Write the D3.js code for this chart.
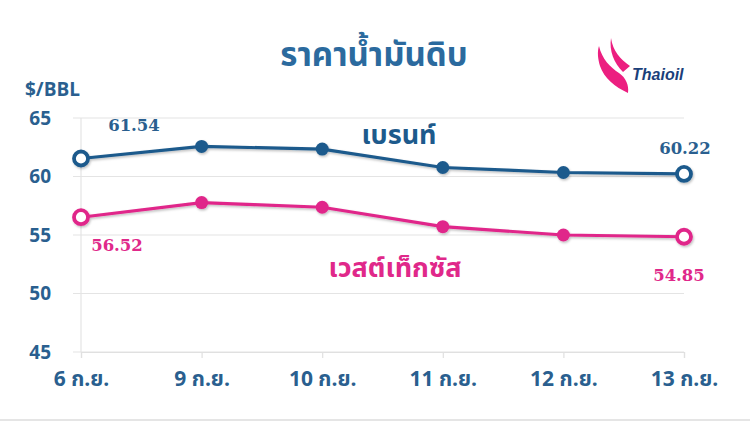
<!DOCTYPE html>
<html><head><meta charset="utf-8">
<script src="https://cdn.jsdelivr.net/npm/d3@7"></script>
<style>
html,body{margin:0;padding:0;background:#fff;}
svg{display:block;}
</style></head>
<body>
<svg id="c" width="750" height="422"></svg>
<script>
const categories = ["6 ก.ย.", "9 ก.ย.", "10 ก.ย.", "11 ก.ย.", "12 ก.ย.", "13 ก.ย."];
const brent = [61.54, 62.57, 62.34, 60.77, 60.34, 60.22];
const wti = [56.52, 57.77, 57.37, 55.71, 55.00, 54.85];
const yTicks = [45, 50, 55, 60, 65];
const title = "ราคาน้ำมันดิบ";
const unitLabel = "$/BBL";
const brentName = "เบรนท์";
const wtiName = "เวสต์เท็กซัส";

const blue = "#1d5a8c", pink = "#e0288a", axisText = "#2a5f8f";
const thaiFont = "'Noto Sans Thai','Noto Sans Thai Looped','Noto Sans','DejaVu Sans',sans-serif";
const numFont = "'DejaVu Serif','Liberation Serif',serif";

const svg = d3.select("#c");
const defs = svg.append("defs");
const f = defs.append("filter").attr("id","sh").attr("x","-20%").attr("y","-50%").attr("width","140%").attr("height","200%");
f.append("feDropShadow").attr("dx",1).attr("dy",1.5).attr("stdDeviation",1.2).attr("flood-color","#000").attr("flood-opacity",0.25);

const x = d3.scalePoint().domain(categories).range([81, 684]);
const y = d3.scaleLinear().domain([45, 65]).range([352, 118]);

// bottom border
svg.append("line").attr("x1",0).attr("x2",750).attr("y1",420).attr("y2",420).attr("stroke","#dcdcdc").attr("stroke-width",1.5);

// gridlines
svg.append("g").selectAll("line").data(yTicks).join("line")
  .attr("x1", 73).attr("x2", 684).attr("y1", d => y(d)).attr("y2", d => y(d))
  .attr("stroke", "#e4e4e4").attr("stroke-width", 1.2);
svg.append("line").attr("x1",81).attr("x2",81).attr("y1",y(65)).attr("y2",y(45)).attr("stroke","#e4e4e4").attr("stroke-width",1.2);

// x axis
const xAxis = svg.append("g").attr("transform", `translate(0,${y(45)})`)
  .call(d3.axisBottom(x).tickSize(6).tickPadding(13));
xAxis.select(".domain").attr("stroke","#e0e0e0").attr("stroke-width",1.2);
xAxis.selectAll(".tick line").attr("stroke","#e0e0e0").attr("stroke-width",1.2);
xAxis.selectAll(".tick text").attr("font-family", thaiFont).attr("font-size", 21).attr("font-weight","bold").attr("fill", axisText);

// y axis labels
const yAxis = svg.append("g").attr("transform","translate(73,0)")
  .call(d3.axisLeft(y).tickValues(yTicks).tickSize(0).tickPadding(22));
yAxis.select(".domain").remove();
yAxis.selectAll(".tick text").attr("font-family", "'Open Sans','DejaVu Sans',sans-serif").attr("font-size", 19).attr("font-weight","bold").attr("fill", axisText);

// title
svg.append("text").attr("x", 374).attr("y", 66).attr("text-anchor","middle")
  .attr("font-family", thaiFont).attr("font-size", 33).attr("font-weight","bold").attr("fill","#2b6a9e").text(title);
svg.append("text").attr("x", 25).attr("y", 96)
  .attr("font-family", "'Open Sans','DejaVu Sans',sans-serif").attr("font-size", 19).attr("font-weight","bold").attr("fill", axisText).text(unitLabel);

// logo
const logo = svg.append("g");
logo.append("path").attr("d","M599,46 C602,59 610,67 619,73 C626,78 629,85 628,93 C615,87 604,78 600,66 C598,59 597,52 599,46 Z").attr("fill","#ec1f80");
logo.append("path").attr("d","M611,38 C613,51 620,59 630,66 L623,72 C614,63 609,51 611,38 Z").attr("fill","#ec1f80");
logo.append("text").attr("x", 632).attr("y", 80).attr("font-family","'Liberation Sans',Arial,sans-serif").attr("font-size",16).attr("font-weight","bold").attr("font-style","italic").attr("fill","#1b3f7a").text("Thaioil");

const line = d3.line().x((d,i) => x(categories[i])).y(d => y(d));

function drawSeries(vals, color) {
  const g = svg.append("g").attr("filter","url(#sh)");
  g.append("path").datum(vals).attr("d", line).attr("fill","none").attr("stroke", color).attr("stroke-width", 3.2);
  g.selectAll("circle").data(vals).join("circle")
    .attr("cx", (d,i) => x(categories[i])).attr("cy", d => y(d))
    .attr("r", (d,i) => (i === 0 || i === vals.length - 1) ? 7 : 6.5)
    .attr("fill", (d,i) => (i === 0 || i === vals.length - 1) ? "#fff" : color)
    .attr("stroke", color).attr("stroke-width", (d,i) => (i === 0 || i === vals.length - 1) ? 3.8 : 0);
}
drawSeries(brent, blue);
drawSeries(wti, pink);

// value labels
function valLabel(xp, yp, txt, color) {
  svg.append("text").attr("x", xp).attr("y", yp).attr("text-anchor","middle")
    .attr("font-family", numFont).attr("font-size", 16.5).attr("font-weight","bold").attr("fill", color).text(txt);
}
valLabel(x(categories[0]) + 53, y(brent[0]) - 27, brent[0].toFixed(2), "#2a5f8f");
valLabel(x(categories[5]) + 1, y(brent[5]) - 20, brent[5].toFixed(2), "#2a5f8f");
valLabel(x(categories[0]) + 36, y(wti[0]) + 34, wti[0].toFixed(2), pink);
valLabel(x(categories[5]) - 5, y(wti[5]) + 44, wti[5].toFixed(2), pink);

// series names
svg.append("text").attr("x", 399).attr("y", 144).attr("text-anchor","middle")
  .attr("font-family", thaiFont).attr("font-size", 27).attr("font-weight","bold").attr("fill", blue).text(brentName);
svg.append("text").attr("x", 395).attr("y", 277).attr("text-anchor","middle")
  .attr("font-family", thaiFont).attr("font-size", 27).attr("font-weight","bold").attr("fill", pink).text(wtiName);
</script>
</body></html>
